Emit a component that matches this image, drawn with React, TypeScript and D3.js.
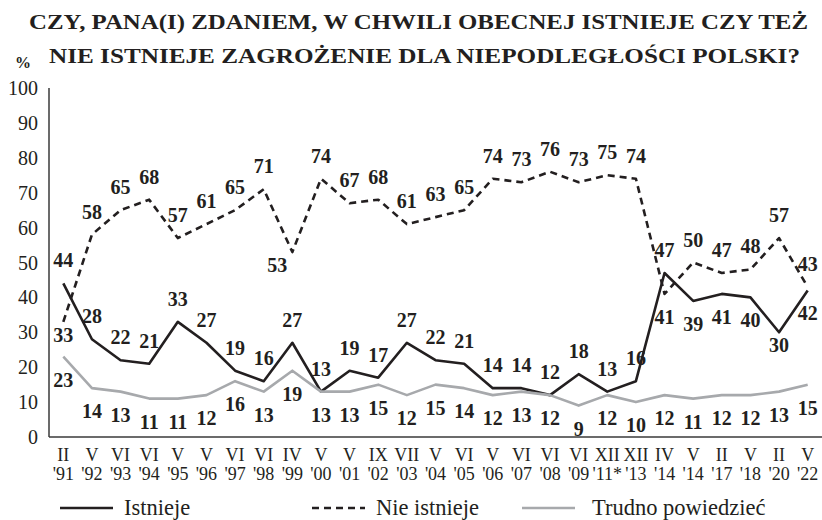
import React from "react";
import * as d3 from "d3";

const months = ["II", "V", "VI", "VI", "V", "V", "VI", "VI", "IV", "V", "V", "IX", "VII", "V", "VI", "V", "VI", "VI", "VI", "XII", "XII", "IV", "V", "II", "V", "II", "V"];
const years = ["'91", "'92", "'93", "'94", "'95", "'96", "'97", "'98", "'99", "'00", "'01", "'02", "'03", "'04", "'05", "'06", "'07", "'08", "'09", "'11*", "'13", "'14", "'14", "'17", "'18", "'20", "'22"];

const istnieje = [44, 28, 22, 21, 33, 27, 19, 16, 27, 13, 19, 17, 27, 22, 21, 14, 14, 12, 18, 13, 16, 47, 39, 41, 40, 30, 42];
const nieIstnieje = [33, 58, 65, 68, 57, 61, 65, 71, 53, 74, 67, 68, 61, 63, 65, 74, 73, 76, 73, 75, 74, 41, 50, 47, 48, 57, 43];
const trudno = [23, 14, 13, 11, 11, 12, 16, 13, 19, 13, 13, 15, 12, 15, 14, 12, 13, 12, 9, 12, 10, 12, 11, 12, 12, 13, 15];

const yTicks = [0, 10, 20, 30, 40, 50, 60, 70, 80, 90, 100];

// which labels sit under their point instead of above
const istniejeBelow = [22, 23, 24, 25, 26];
const nieBelow = [0, 8, 21];
// labels tucked closer to a sharp dip
const tightBelow = ["Istnieje-25", "Nie istnieje-0", "Nie istnieje-8"];

const W = 822;
const H = 520;
const INK = "#231f20";
const GREY = "#a7a9ac";
const FONT = '"Liberation Serif", Tinos, "Times New Roman"';

const T = (props: any) => <text fontFamily={FONT} style={{ fontFamily: FONT }} fill={INK} {...props} />;

const App = () => {
  const keys = months.map((m, i) => i);
  const x = d3.scalePoint<number>().domain(keys).range([49, 822]).padding(0.5);
  const y = d3.scaleLinear().domain([0, 100]).range([437, 88]);

  const line = d3
    .line<number>()
    .x((d, i) => x(i) as number)
    .y((d) => y(d));

  const series = [
    { name: "Istnieje", values: istnieje, below: istniejeBelow, stroke: INK, dash: null },
    { name: "Nie istnieje", values: nieIstnieje, below: nieBelow, stroke: INK, dash: "7,5" },
    { name: "Trudno powiedzieć", values: trudno, below: keys, stroke: GREY, dash: null },
  ];

  const legendX = [60, 312, 522];
  const legendGap = [64, 64, 70];

  return (
    <svg width={W} height={H} style={{ position: "absolute", left: 0, top: 0, background: "#fff" }}>
      <style>{`svg text { font-family: "Liberation Serif", Tinos, "Times New Roman" !important; }`}</style>
      {/* title */}
      <T x={29} y={29} fontSize={22} fontWeight="bold" textLength={779} lengthAdjust="spacingAndGlyphs">
        CZY, PANA(I) ZDANIEM, W CHWILI OBECNEJ ISTNIEJE CZY TEŻ
      </T>
      <T x={49} y={63} fontSize={22} fontWeight="bold" textLength={751} lengthAdjust="spacingAndGlyphs">
        NIE ISTNIEJE ZAGROŻENIE DLA NIEPODLEGŁOŚCI POLSKI?
      </T>
      <T x={23} y={68} fontSize={16} fontWeight="bold" textAnchor="middle">%</T>

      {/* y axis */}
      {yTicks.map((t) => (
        <T key={t} x={38} y={y(t)} dy="0.35em" fontSize={20} textAnchor="end">
          {t}
        </T>
      ))}
      <line x1={49} x2={49} y1={88} y2={437} stroke="#3a3a3a" strokeWidth={1.5} />
      <line x1={49} x2={822} y1={437} y2={437} stroke="#3a3a3a" strokeWidth={1.5} />

      {/* x labels */}
      {keys.map((i) => (
        <g key={i}>
          <T x={x(i)} y={461} fontSize={18} textAnchor="middle">{months[i]}</T>
          <T x={x(i)} y={480} fontSize={18} textAnchor="middle">{years[i]}</T>
        </g>
      ))}

      {/* lines */}
      {series.map((s) => (
        <path
          key={s.name}
          d={line(s.values) || ""}
          fill="none"
          stroke={s.stroke}
          strokeWidth={2.6}
          strokeDasharray={s.dash || undefined}
          strokeLinejoin="round"
        />
      ))}

      {/* value labels */}
      {series.map((s) =>
        s.values.map((v, i) => {
          const under = s.below.includes(i);
          const tight = tightBelow.includes(s.name + "-" + i);
          return (
            <T
              key={s.name + i}
              x={(x(i) as number) + (s.name === "Nie istnieje" && i === 8 ? -15 : 0)}
              y={y(v) + (under ? (tight ? 13 : 23) : -23)}
              dy="0.35em"
              fontSize={20}
              fontWeight="bold"
              textAnchor="middle"
            >
              {v}
            </T>
          );
        })
      )}

      {/* legend */}
      {series.map((s, k) => (
        <g key={s.name} transform={`translate(${legendX[k]},508)`}>
          <line x1={0} x2={53} y1={0} y2={0} stroke={s.stroke} strokeWidth={2.6} strokeDasharray={s.dash || undefined} />
          <T x={legendGap[k]} y={7} fontSize={22.5}>
            {s.name}
          </T>
        </g>
      ))}
    </svg>
  );
};

export default App;
